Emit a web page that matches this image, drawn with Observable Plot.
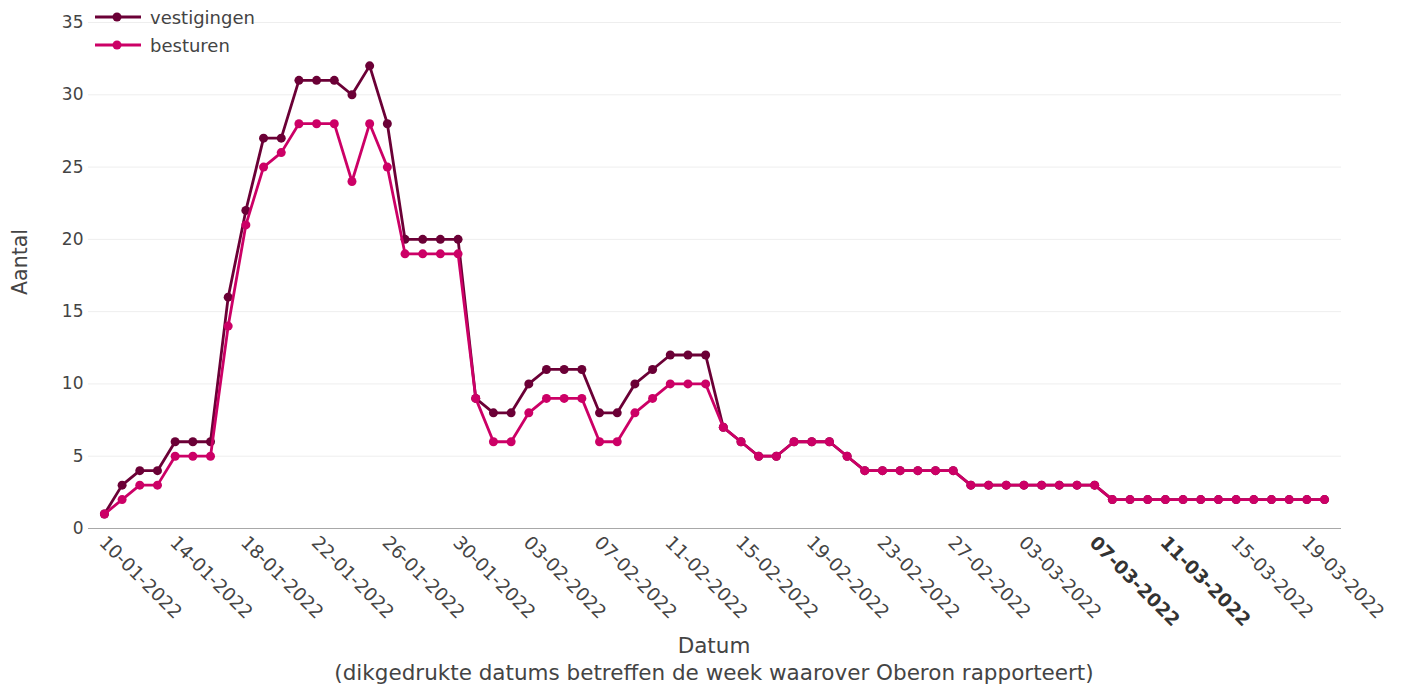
<!DOCTYPE html>
<html>
<head>
<meta charset="utf-8">
<script src="https://cdn.jsdelivr.net/npm/d3@7"></script>
<script src="https://cdn.jsdelivr.net/npm/@observablehq/plot@0.6"></script>
<style>
  html, body { margin: 0; padding: 0; background: #fff; }
  body { font-family: "DejaVu Sans", Verdana, sans-serif; color: #444; }
  #wrap { position: relative; width: 1405px; height: 692px; overflow: hidden; }
  .abs { position: absolute; white-space: nowrap; line-height: 1; }
  #legend { position: absolute; left: 94px; top: 3px; font-size: 18px; color: #444; }
  .li { display: flex; align-items: center; height: 28px; }
  .li svg { margin-right: 8px; }
</style>
</head>
<body>
<div id="wrap">
  <div id="chart"></div>
  <div id="legend"></div>
  <div class="abs" id="ytitle" style="left:20px; top:262px; font-size:20.5px; transform: translate(-50%,-50%) rotate(-90deg);">Aantal</div>
  <div class="abs" id="xtitle" style="left:714px; top:635px; font-size:21.5px; transform: translateX(-50%);">Datum</div>
  <div class="abs" id="caption" style="left:714px; top:662px; font-size:21.5px; transform: translateX(-50%);">(dikgedrukte datums betreffen de week waarover Oberon rapporteert)</div>
</div>
<script>
const dates = [
  "2022-01-10","2022-01-11","2022-01-12","2022-01-13","2022-01-14","2022-01-15","2022-01-16",
  "2022-01-17","2022-01-18","2022-01-19","2022-01-20","2022-01-21","2022-01-22","2022-01-23",
  "2022-01-24","2022-01-25","2022-01-26","2022-01-27","2022-01-28","2022-01-29","2022-01-30",
  "2022-01-31","2022-02-01","2022-02-02","2022-02-03","2022-02-04","2022-02-05","2022-02-06",
  "2022-02-07","2022-02-08","2022-02-09","2022-02-10","2022-02-11","2022-02-12","2022-02-13",
  "2022-02-14","2022-02-15","2022-02-16","2022-02-17","2022-02-18","2022-02-19","2022-02-20",
  "2022-02-21","2022-02-22","2022-02-23","2022-02-24","2022-02-25","2022-02-26","2022-02-27",
  "2022-02-28","2022-03-01","2022-03-02","2022-03-03","2022-03-04","2022-03-05","2022-03-06",
  "2022-03-07","2022-03-08","2022-03-09","2022-03-10","2022-03-11","2022-03-12","2022-03-13",
  "2022-03-14","2022-03-15","2022-03-16","2022-03-17","2022-03-18","2022-03-19","2022-03-20"
];
const vestigingen = [1,3,4,4,6,6,6,16,22,27,27,31,31,31,30,32,28,20,20,20,20,
  9,8,8,10,11,11,11,8,8,10,11,12,12,12,7,6,5,5,6,6,6,5,
  4,4,4,4,4,4,3,3,3,3,3,3,3,3,2,2,2,2,2,2,2,2,2,2,2,2,2];
const besturen = [1,2,3,3,5,5,5,14,21,25,26,28,28,28,24,28,25,19,19,19,19,
  9,6,6,8,9,9,9,6,6,8,9,10,10,10,7,6,5,5,6,6,6,5,
  4,4,4,4,4,4,3,3,3,3,3,3,3,3,2,2,2,2,2,2,2,2,2,2,2,2,2];
const seriesNames = ["vestigingen", "besturen"];
const seriesColors = ["#6b0036", "#cc0066"];
const tickLabels = ["10-01-2022","14-01-2022","18-01-2022","22-01-2022","26-01-2022","30-01-2022",
  "03-02-2022","07-02-2022","11-02-2022","15-02-2022","19-02-2022","23-02-2022","27-02-2022",
  "03-03-2022","07-03-2022","11-03-2022","15-03-2022","19-03-2022"];
const boldLabels = ["07-03-2022","11-03-2022"];
const yTicks = [0,5,10,15,20,25,30,35];

const parseISO = s => new Date(s + "T00:00:00Z");
const parseNL = s => { const [d,m,y] = s.split("-").map(Number); return new Date(Date.UTC(y, m-1, d)); };
const DAY = 86400000;

const rows = [];
seriesNames.forEach((name, si) => {
  const vals = si === 0 ? vestigingen : besturen;
  dates.forEach((d, i) => rows.push({series: name, date: parseISO(d), value: vals[i]}));
});

const x0 = parseISO(dates[0]).getTime() - 0.9 * DAY;
const x1 = parseISO(dates[dates.length - 1]).getTime() + 0.96 * DAY;

const normalLabels = tickLabels.filter(t => !boldLabels.includes(t));
const boldOnes = tickLabels.filter(t => boldLabels.includes(t));

const chart = Plot.plot({
  width: 1405,
  height: 692,
  marginLeft: 88,
  marginRight: 64,
  marginTop: 22,
  marginBottom: 164,
  style: {fontFamily: '"DejaVu Sans", Verdana, sans-serif', color: "#444", background: "#fff"},
  x: {type: "utc", domain: [new Date(x0), new Date(x1)], axis: null},
  y: {domain: [0, 35], axis: null},
  color: {domain: seriesNames, range: seriesColors},
  marks: [
    Plot.gridY(yTicks.filter(t => t > 0), {stroke: "#eeeeee", strokeOpacity: 1, strokeWidth: 1}),
    Plot.ruleY([0], {stroke: "#a8a8a8", strokeWidth: 1.2}),
    Plot.axisY(yTicks, {tickSize: 0, tickPadding: 5, fontSize: 17, label: null, fill: "#444"}),
    Plot.line(rows.filter(r => r.series === "vestigingen"), {x: "date", y: "value", stroke: seriesColors[0], strokeWidth: 2.8}),
    Plot.dot(rows.filter(r => r.series === "vestigingen"), {x: "date", y: "value", fill: seriesColors[0], r: 4.5}),
    Plot.line(rows.filter(r => r.series === "besturen"), {x: "date", y: "value", stroke: seriesColors[1], strokeWidth: 2.8}),
    Plot.dot(rows.filter(r => r.series === "besturen"), {x: "date", y: "value", fill: seriesColors[1], r: 4.5}),
    Plot.text(normalLabels, {x: d => parseNL(d), frameAnchor: "bottom", text: d => d, rotate: 45,
      textAnchor: "start", lineAnchor: "middle", dy: 11, dx: -2, fontSize: 18.5, fill: "#444"}),
    Plot.text(boldOnes, {x: d => parseNL(d), frameAnchor: "bottom", text: d => d, rotate: 45,
      textAnchor: "start", lineAnchor: "middle", dy: 11, dx: -2, fontSize: 18.5, fontWeight: "bold", fill: "#333"})
  ]
});
document.getElementById("chart").appendChild(chart);

const legend = document.getElementById("legend");
seriesNames.forEach((name, i) => {
  const div = document.createElement("div");
  div.className = "li";
  div.innerHTML = `<svg width="48" height="14"><line x1="1" y1="7" x2="47" y2="7" stroke="${seriesColors[i]}" stroke-width="3"/><circle cx="23" cy="7" r="4.5" fill="${seriesColors[i]}"/></svg><span>${name}</span>`;
  legend.appendChild(div);
});
</script>
</body>
</html>
